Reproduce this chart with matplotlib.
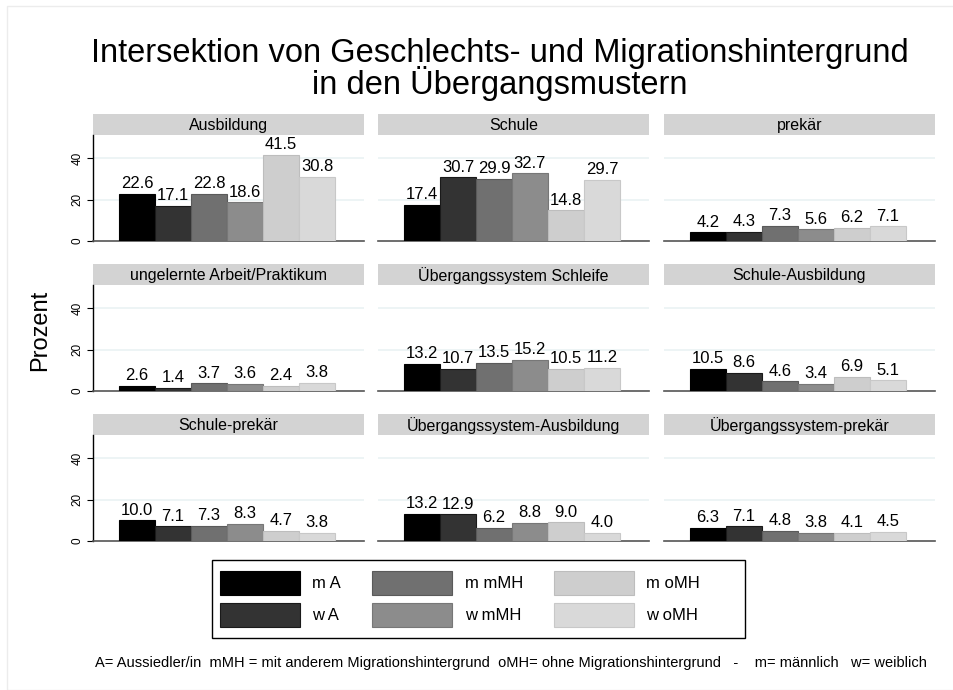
import matplotlib
matplotlib.use("Agg")
import matplotlib.pyplot as plt
from matplotlib.patches import Patch, Rectangle

plt.rcParams['font.family'] = ['Liberation Sans', 'DejaVu Sans']

panels = ["Ausbildung", "Schule", "prekär",
          "ungelernte Arbeit/Praktikum", "Übergangssystem Schleife", "Schule-Ausbildung",
          "Schule-prekär", "Übergangssystem-Ausbildung", "Übergangssystem-prekär"]
groups = ["m A", "w A", "m mMH", "w mMH", "m oMH", "w oMH"]
values = [
    [22.6, 17.1, 22.8, 18.6, 41.5, 30.8],
    [17.4, 30.7, 29.9, 32.7, 14.8, 29.7],
    [4.2, 4.3, 7.3, 5.6, 6.2, 7.1],
    [2.6, 1.4, 3.7, 3.6, 2.4, 3.8],
    [13.2, 10.7, 13.5, 15.2, 10.5, 11.2],
    [10.5, 8.6, 4.6, 3.4, 6.9, 5.1],
    [10.0, 7.1, 7.3, 8.3, 4.7, 3.8],
    [13.2, 12.9, 6.2, 8.8, 9.0, 4.0],
    [6.3, 7.1, 4.8, 3.8, 4.1, 4.5],
]
yticks = [0, 20, 40]

colors = ["#000000", "#333333", "#707070", "#8c8c8c", "#cecece", "#d9d9d9"]
edges = ["#000000", "#1a1a1a", "#5a5a5a", "#777777", "#bdbdbd", "#c8c8c8"]

W, H = 954, 690
fig = plt.figure(figsize=(W / 100, H / 100), dpi=100)

# outer faint frame
fig.patches.append(Rectangle((7 / W, 0), 1.0, 1 - 6 / H, transform=fig.transFigure,
                             fill=False, edgecolor="#ececec", lw=1))

def fig_rect(x, y, w, h):
    return [x / W, 1 - (y + h) / H, w / W, h / H]

col_left = [93, 378, 664]
col_w = 271
hdr_top = [114, 264, 414]
hdr_h = 21
plot_h = 106

bw = 1.0
off_px = 26
unit = 36.0
xl = -0.5 - off_px / unit
xr = xl + col_w / unit

for i, name in enumerate(panels):
    r, c = divmod(i, 3)
    x0 = col_left[c]
    # header strip
    hax = fig.add_axes(fig_rect(x0, hdr_top[r], col_w, hdr_h))
    hax.set_facecolor("#d3d3d3")
    hax.set_xticks([]); hax.set_yticks([])
    for s in hax.spines.values():
        s.set_visible(False)
    hax.text(0.5, 0.47, name, ha="center", va="center", fontsize=11.5, transform=hax.transAxes)

    ax = fig.add_axes(fig_rect(x0, hdr_top[r] + hdr_h, col_w, plot_h))
    xs = list(range(len(groups)))
    bars = ax.bar(xs, values[i], width=bw, color=colors, edgecolor=edges, linewidth=0.8, zorder=3)
    for b, v in zip(bars, values[i]):
        ax.annotate(f"{v:.1f}", (b.get_x() + b.get_width() / 2, v), xytext=(0, 2),
                    textcoords="offset points", ha="center", va="bottom", fontsize=12, zorder=4)
    ax.set_xlim(xl, xr)
    ax.set_ylim(0, 51.2)
    ax.set_yticks(yticks)
    for t in yticks[1:]:
        ax.axhline(t, color="#eaf2f3", lw=1.2, zorder=1)
    ax.set_xticks([])
    for s in ["top", "right"]:
        ax.spines[s].set_visible(False)
    ax.spines["bottom"].set_color("#555555")
    ax.spines["bottom"].set_linewidth(1.2)
    if c == 0:
        ax.spines["left"].set_color("#000000")
        ax.spines["left"].set_linewidth(1.0)
        ax.tick_params(axis="y", length=4, width=0.8, labelsize=8.5, pad=3)
        for lab in ax.get_yticklabels():
            lab.set_rotation(90)
            lab.set_va("center")
    else:
        ax.spines["left"].set_visible(False)
        ax.tick_params(axis="y", left=False, labelleft=False)

fig.text(500 / W, 1 - 62 / H, "Intersektion von Geschlechts- und Migrationshintergrund",
         ha="center", va="baseline", fontsize=23.5)
fig.text(500 / W, 1 - 94 / H, "in den Übergangsmustern",
         ha="center", va="baseline", fontsize=23.5)
fig.text(40 / W, 1 - 330 / H, "Prozent", rotation=90, ha="center", va="center", fontsize=17)

# legend box frame
fig.patches.append(Rectangle((212 / W, 1 - 638 / H), (745 - 212) / W, (638 - 560) / H,
                             transform=fig.transFigure, fill=False, edgecolor="#000000", lw=1.0))

handles = [Patch(facecolor=colors[k], edgecolor=edges[k], linewidth=0.8) for k in range(len(groups))]
leg = fig.legend(handles, groups, ncol=3, loc="upper left", bbox_to_anchor=(220 / W, 1 - 571 / H),
                 fontsize=12, handlelength=4.8, handleheight=1.8, handletextpad=0.75,
                 columnspacing=1.85, labelspacing=0.5, borderpad=0.0, fancybox=False,
                 frameon=False, borderaxespad=0)

fig.text(511 / W, 1 - 663 / H,
         "A= Aussiedler/in  mMH = mit anderem Migrationshintergrund  oMH= ohne Migrationshintergrund   -    m= männlich   w= weiblich",
         ha="center", va="center", fontsize=10.5)

fig.savefig("out.png", dpi=100, facecolor="white")
